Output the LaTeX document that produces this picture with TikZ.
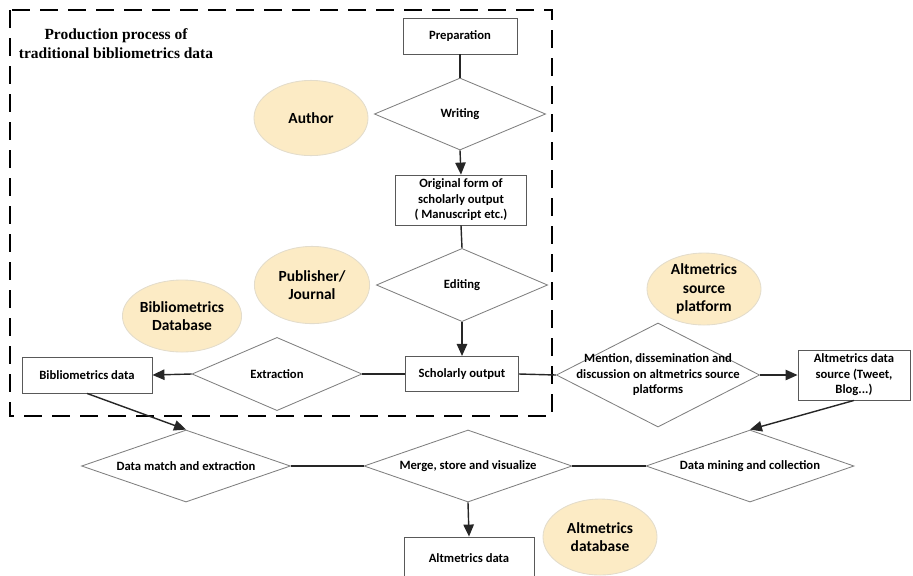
\documentclass[tikz,border=0pt]{standalone}
\usepackage{fontspec}
\setmainfont{Carlito}
\newfontfamily\titlefont{Liberation Serif}
\usetikzlibrary{arrows.meta,positioning,shapes.geometric}
\definecolor{boxgray}{HTML}{595959}
\definecolor{diagray}{HTML}{7F7F7F}
\definecolor{roleyellow}{HTML}{FCEBC5}
\definecolor{roleedge}{HTML}{E3DCCB}

\begin{document}
\begin{tikzpicture}[x=0.025cm, y=-0.025cm,
  every node/.style={font=\fontsize{9}{11}\selectfont\bfseries},
  stagebox/.style={draw=boxgray, line width=0.6pt, fill=white, align=center, inner sep=0pt},
  decision/.style={diamond, draw=diagray, line width=0.6pt, inner sep=0pt},
  role/.style={ellipse, fill=roleyellow, draw=roleedge, line width=0.6pt, inner sep=0pt,
    align=center, font=\fontsize{11}{13}\selectfont\bfseries},
  flow/.style={draw=black!85, line width=1pt},
  flowarrow/.style={flow, -{Triangle[length=3mm, width=2.6mm]}}]

  \useasboundingbox (0,0) rectangle (913,575);

  % ---- Dashed frame: traditional bibliometrics ----
  \draw[black, line width=1pt, dash pattern=on 4.5mm off 2.5mm] (10,10) rectangle (552,416);
  \node[font=\titlefont\fontsize{11}{13.5}\selectfont\bfseries, align=center]
    (frametitle) at (116,44) {Production process of\\traditional bibliometrics data};

  % ---- Production chain ----
  \node[stagebox, minimum width=2.85cm, minimum height=0.9cm] (prep) at (460,36) {Preparation};
  \node[decision, minimum width=4.28cm, minimum height=1.8cm, label=center:Writing]
    (writing) at (460,114) {};
  \node[role, minimum width=2.85cm, minimum height=1.88cm] (author) at (311,118) {Author};
  \node[stagebox, minimum width=3.28cm, minimum height=1.25cm] (original) at (461,200)
    {Original form of\\scholarly output\\( Manuscript etc.)};
  \node[decision, minimum width=4.28cm, minimum height=1.83cm, label=center:Editing]
    (editing) at (462,285) {};
  \node[role, minimum width=2.88cm, minimum height=1.93cm] (publisher) at (312,285) {Publisher/\\Journal};
  \node[stagebox, minimum width=2.83cm, minimum height=0.88cm] (scholarly) at (462,374) {Scholarly output};
  \node[decision, minimum width=4.25cm, minimum height=1.83cm, label=center:Extraction]
    (extraction) at (277,374) {};
  \node[stagebox, minimum width=3.25cm, minimum height=0.9cm] (bibdata) at (87,375) {Bibliometrics data};
  \node[role, minimum width=2.95cm, minimum height=1.8cm] (bibdb) at (182,316) {Bibliometrics\\Database};

  % ---- Altmetrics side ----
  \node[decision, minimum width=5.08cm, minimum height=2.6cm,
    label={[align=center]center:{Mention, dissemination and\\discussion on altmetrics source\\platforms}}]
    (mention) at (658,375) {};
  \node[role, minimum width=2.85cm, minimum height=1.8cm] (platform) at (704,289) {Altmetrics\\source\\platform};
  \node[stagebox, minimum width=2.8cm, minimum height=1.25cm] (altsource) at (854,375)
    {Altmetrics data\\source (Tweet,\\Blog...)};

  % ---- Merging row ----
  \node[decision, minimum width=5.22cm, minimum height=1.8cm, label=center:Data match and extraction]
    (datamatch) at (186,466) {};
  \node[decision, minimum width=5.2cm, minimum height=1.8cm, label={center:{Merge, store and visualize}}]
    (merge) at (468,466) {};
  \node[decision, minimum width=5.2cm, minimum height=1.8cm, label=center:Data mining and collection]
    (datamining) at (750,466) {};
  \node[stagebox, minimum width=3.25cm, minimum height=1.05cm] (altdata) at (469,558) {Altmetrics data};
  \node[role, minimum width=2.85cm, minimum height=1.9cm] (altdb) at (600,537) {Altmetrics\\database};

  % ---- Connectors ----
  \draw[flow] (prep.south) -- (writing.north);
  \draw[flowarrow] (writing.south) -- (original.north);
  \draw[flow] (original.south) -- (editing.north);
  \draw[flowarrow] (editing.south) -- (scholarly.north);
  \draw[flow] (scholarly.west) -- (extraction.east);
  \draw[flowarrow] (extraction.west) -- (bibdata.east);
  \draw[flow] (scholarly.east) -- (mention.west);
  \draw[flowarrow] (mention.east) -- (altsource.west);
  \draw[flowarrow] (bibdata.south) -- (datamatch.north);
  \draw[flowarrow] (altsource.south) -- (datamining.north);
  \draw[flow] (datamatch.east) -- (merge.west);
  \draw[flow] (merge.east) -- (datamining.west);
  \draw[flowarrow] (merge.south) -- (altdata.north);

\end{tikzpicture}
\end{document}
